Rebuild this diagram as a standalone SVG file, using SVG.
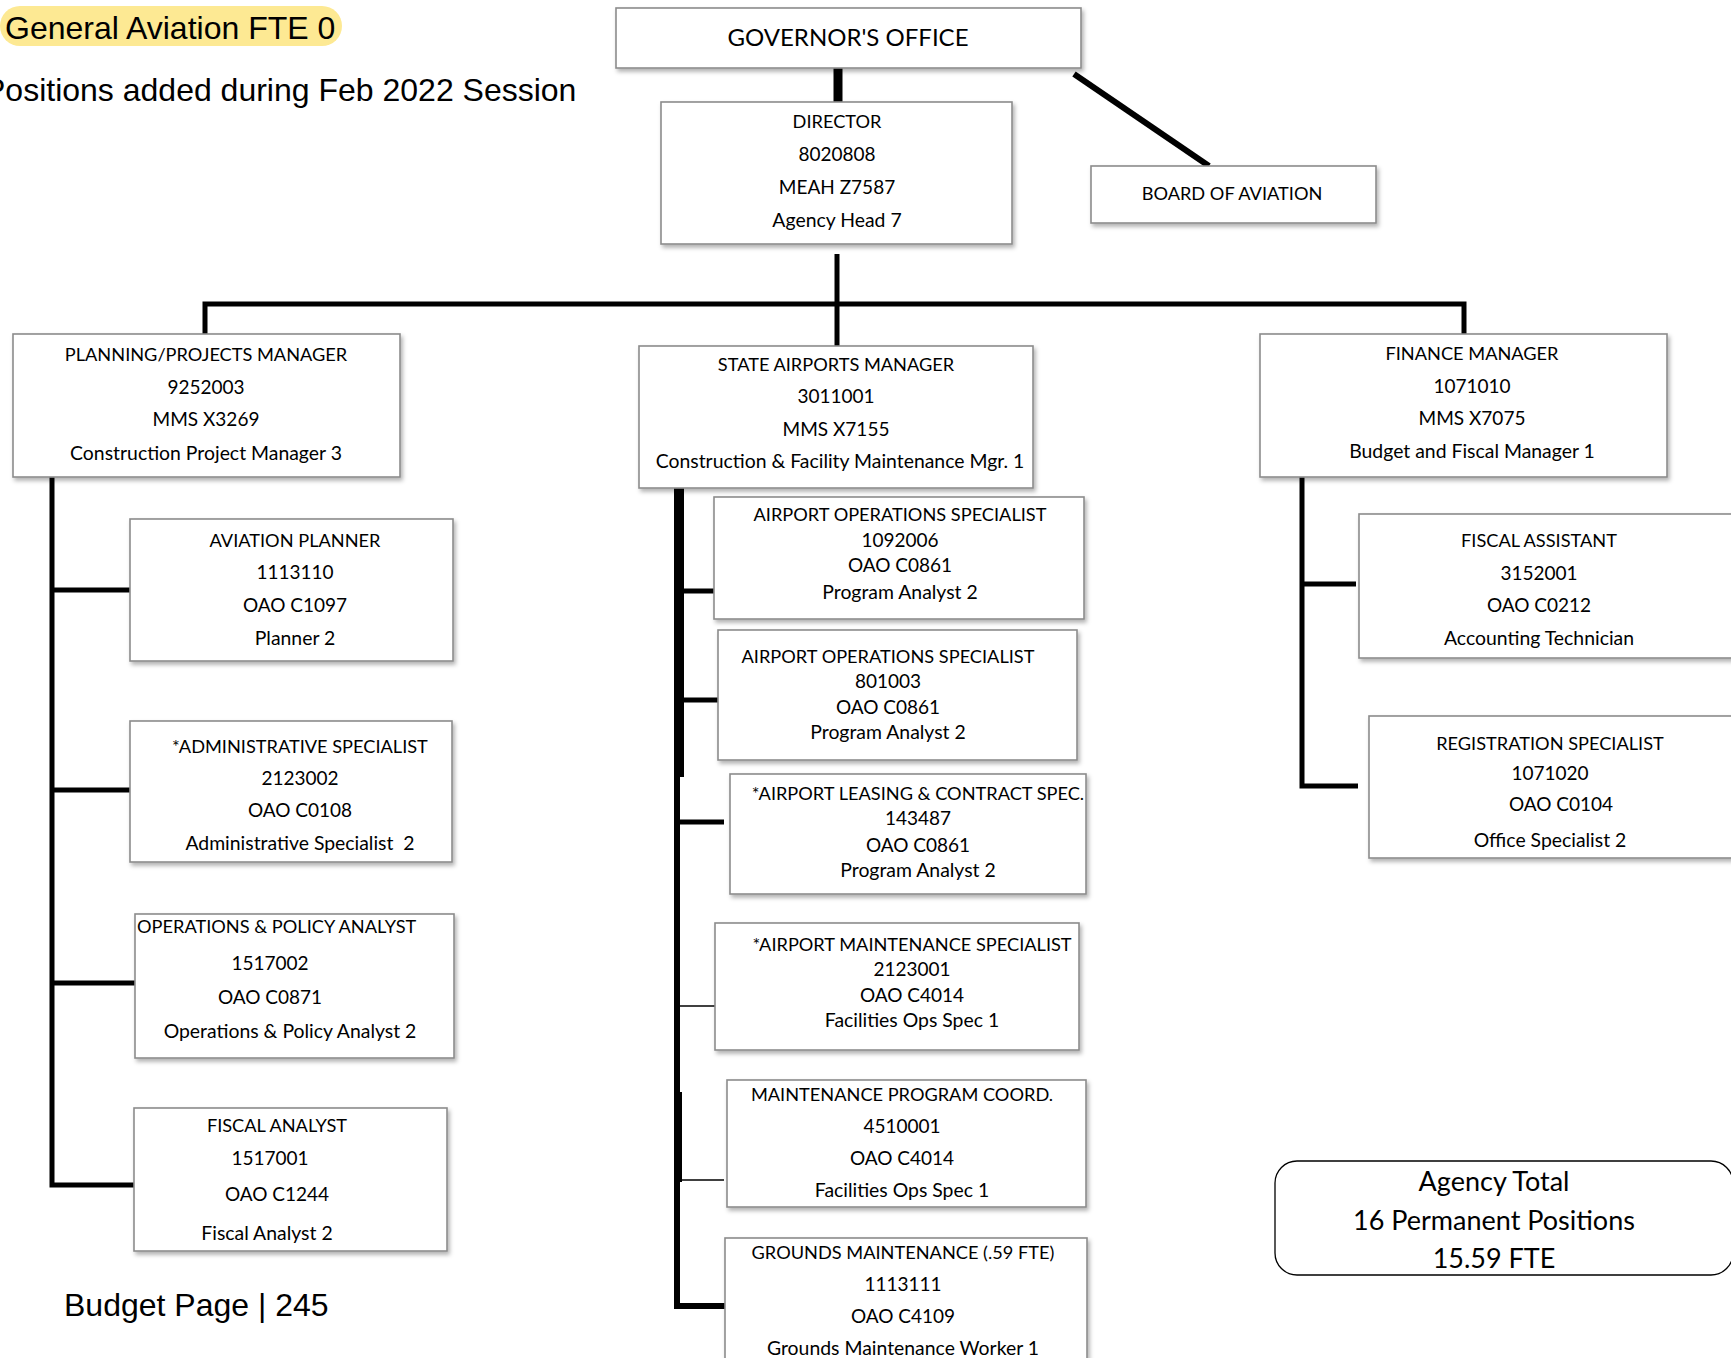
<svg xmlns="http://www.w3.org/2000/svg" width="1731" height="1358" viewBox="0 0 1731 1358">
<defs>
<filter id="sh" x="-5%" y="-5%" width="115%" height="125%">
<feDropShadow dx="2" dy="3" stdDeviation="2" flood-color="#000" flood-opacity="0.3"/>
</filter>
<style>
.box{fill:#fff;stroke:#8c8c8c;stroke-width:1.6;filter:url(#sh)}
.t{font-family:Lato,"Open Sans",sans-serif;font-size:19.4px;fill:#000;text-anchor:middle}
.u{font-size:18.2px}
.n{font-size:19px}
.l{text-anchor:start}
.big{font-family:"Liberation Sans",Arial,sans-serif;font-size:32px;fill:#000}
.gov{font-size:24px}
.tot{font-size:27px}
.c{stroke:#000;fill:none}
.thin{stroke-width:1.4}
</style>
</defs>
<rect width="1731" height="1358" fill="#fff"/>

<g id="header">
<rect x="0" y="6" width="342" height="40" rx="20" fill="#fde993"/>
<text class="big" x="5" y="39">General Aviation FTE 0</text>
<text class="big" x="-16" y="101">Positions added during Feb 2022 Session</text>
<text class="big" x="64" y="1316">Budget Page | 245</text>
</g>

<g id="connectors">
<line class="c" x1="838" y1="68" x2="838" y2="102" stroke-width="9"/>
<line class="c" x1="1074" y1="74" x2="1209" y2="166" stroke-width="6"/>
<line class="c" x1="837" y1="254" x2="837" y2="346" stroke-width="5"/>
<polyline class="c" points="205,334 205,304 1464,304 1464,334" stroke-width="5"/>
<polyline class="c" points="52,477 52,1185 134,1185" stroke-width="5"/>
<line class="c" x1="52" y1="590" x2="130" y2="590" stroke-width="5"/>
<line class="c" x1="52" y1="790" x2="130" y2="790" stroke-width="5"/>
<line class="c" x1="52" y1="983" x2="135" y2="983" stroke-width="5"/>
<polyline class="c" points="677,482 677,1306 725,1306" stroke-width="6"/>
<line class="c" x1="681" y1="467" x2="681" y2="777" stroke-width="6"/>
<line class="c" x1="679" y1="1092" x2="679" y2="1182" stroke-width="6"/>
<line class="c" x1="677" y1="591" x2="714" y2="591" stroke-width="5"/>
<line class="c" x1="677" y1="700" x2="719" y2="700" stroke-width="5"/>
<line class="c" x1="677" y1="822" x2="724" y2="822" stroke-width="5"/>
<line class="c thin" x1="677" y1="1006" x2="715" y2="1006"/>
<line class="c thin" x1="677" y1="1180" x2="724" y2="1180"/>
<polyline class="c" points="1302,477 1302,786 1358,786" stroke-width="5"/>
<line class="c" x1="1302" y1="584" x2="1356" y2="584" stroke-width="5"/>
</g>

<g id="governor">
<rect class="box" x="616" y="8" width="465" height="60"/>
<text class="t gov" x="848" y="46">GOVERNOR'S OFFICE</text>
</g>
<g id="director">
<rect class="box" x="661" y="102" width="351" height="142"/>
<text class="t u" x="837" y="128">DIRECTOR</text>
<text class="t n" x="837" y="161">8020808</text>
<text class="t n" x="837" y="194">MEAH Z7587</text>
<text class="t" x="837" y="227">Agency Head 7</text>
</g>
<g id="board">
<rect class="box" x="1091" y="166" width="285" height="57"/>
<text class="t u" x="1232" y="200">BOARD OF AVIATION</text>
</g>

<g id="planning-manager">
<rect class="box" x="13" y="334" width="387" height="143"/>
<text class="t u" x="206" y="361">PLANNING/PROJECTS MANAGER</text>
<text class="t n" x="206" y="394">9252003</text>
<text class="t n" x="206" y="426">MMS X3269</text>
<text class="t" x="206" y="460">Construction Project Manager 3</text>
</g>
<g id="state-airports-manager">
<rect class="box" x="639" y="346" width="394" height="142"/>
<text class="t u" x="836" y="371">STATE AIRPORTS MANAGER</text>
<text class="t n" x="836" y="403">3011001</text>
<text class="t n" x="836" y="436">MMS X7155</text>
<text class="t" x="840" y="468">Construction &amp; Facility Maintenance Mgr. 1</text>
</g>
<g id="finance-manager">
<rect class="box" x="1260" y="334" width="407" height="143"/>
<text class="t u" x="1472" y="360">FINANCE MANAGER</text>
<text class="t n" x="1472" y="393">1071010</text>
<text class="t n" x="1472" y="425">MMS X7075</text>
<text class="t" x="1472" y="458">Budget and Fiscal Manager 1</text>
</g>

<g id="aviation-planner">
<rect class="box" x="130" y="519" width="323" height="142"/>
<text class="t u" x="295" y="547">AVIATION PLANNER</text>
<text class="t n" x="295" y="579">1113110</text>
<text class="t n" x="295" y="612">OAO C1097</text>
<text class="t" x="295" y="645">Planner 2</text>
</g>
<g id="administrative-specialist">
<rect class="box" x="130" y="721" width="322" height="141"/>
<text class="t u" x="300" y="753">*ADMINISTRATIVE SPECIALIST</text>
<text class="t n" x="300" y="785">2123002</text>
<text class="t n" x="300" y="817">OAO C0108</text>
<text class="t" x="300" y="850" xml:space="preserve">Administrative Specialist  2</text>
</g>
<g id="operations-policy-analyst">
<rect class="box" x="135" y="914" width="319" height="144"/>
<text class="t u l" x="137" y="933">OPERATIONS &amp; POLICY ANALYST</text>
<text class="t n" x="270" y="970">1517002</text>
<text class="t n" x="270" y="1004">OAO C0871</text>
<text class="t" x="290" y="1038">Operations &amp; Policy Analyst 2</text>
</g>
<g id="fiscal-analyst">
<rect class="box" x="134" y="1108" width="313" height="143"/>
<text class="t u" x="277" y="1132">FISCAL ANALYST</text>
<text class="t n" x="270" y="1165">1517001</text>
<text class="t n" x="277" y="1201">OAO C1244</text>
<text class="t" x="267" y="1240">Fiscal Analyst 2</text>
</g>

<g id="airport-operations-specialist-1">
<rect class="box" x="714" y="497" width="370" height="122"/>
<text class="t u" x="900" y="521">AIRPORT OPERATIONS SPECIALIST</text>
<text class="t n" x="900" y="547">1092006</text>
<text class="t n" x="900" y="572">OAO C0861</text>
<text class="t" x="900" y="599">Program Analyst 2</text>
</g>
<g id="airport-operations-specialist-2">
<rect class="box" x="718" y="630" width="359" height="130"/>
<text class="t u" x="888" y="663">AIRPORT OPERATIONS SPECIALIST</text>
<text class="t n" x="888" y="688">801003</text>
<text class="t n" x="888" y="714">OAO C0861</text>
<text class="t" x="888" y="739">Program Analyst 2</text>
</g>
<g id="airport-leasing-contract-spec">
<rect class="box" x="730" y="774" width="356" height="120"/>
<text class="t u" x="918" y="800">*AIRPORT LEASING &amp; CONTRACT SPEC.</text>
<text class="t n" x="918" y="825">143487</text>
<text class="t n" x="918" y="852">OAO C0861</text>
<text class="t" x="918" y="877">Program Analyst 2</text>
</g>
<g id="airport-maintenance-specialist">
<rect class="box" x="715" y="923" width="364" height="127"/>
<text class="t u" x="912" y="951">*AIRPORT MAINTENANCE SPECIALIST</text>
<text class="t n" x="912" y="976">2123001</text>
<text class="t n" x="912" y="1002">OAO C4014</text>
<text class="t" x="912" y="1027">Facilities Ops Spec 1</text>
</g>
<g id="maintenance-program-coord">
<rect class="box" x="727" y="1080" width="359" height="127"/>
<text class="t u" x="902" y="1101">MAINTENANCE PROGRAM COORD.</text>
<text class="t n" x="902" y="1133">4510001</text>
<text class="t n" x="902" y="1165">OAO C4014</text>
<text class="t" x="902" y="1197">Facilities Ops Spec 1</text>
</g>
<g id="grounds-maintenance">
<rect class="box" x="725" y="1238" width="362" height="140"/>
<text class="t u" x="903" y="1259">GROUNDS MAINTENANCE (.59 FTE)</text>
<text class="t n" x="903" y="1291">1113111</text>
<text class="t n" x="903" y="1323">OAO C4109</text>
<text class="t" x="903" y="1355">Grounds Maintenance Worker 1</text>
</g>

<g id="fiscal-assistant">
<rect class="box" x="1359" y="514" width="390" height="144"/>
<text class="t u" x="1539" y="547">FISCAL ASSISTANT</text>
<text class="t n" x="1539" y="580">3152001</text>
<text class="t n" x="1539" y="612">OAO C0212</text>
<text class="t" x="1539" y="645">Accounting Technician</text>
</g>
<g id="registration-specialist">
<rect class="box" x="1369" y="716" width="380" height="142"/>
<text class="t u" x="1550" y="750">REGISTRATION SPECIALIST</text>
<text class="t n" x="1550" y="780">1071020</text>
<text class="t n" x="1561" y="811">OAO C0104</text>
<text class="t" x="1550" y="847">Office Specialist 2</text>
</g>

<g id="agency-total">
<rect x="1275" y="1161" width="458" height="114" rx="22" fill="#fff" stroke="#000" stroke-width="1.3"/>
<text class="t tot" x="1494" y="1191">Agency Total</text>
<text class="t tot" x="1494" y="1230">16 Permanent Positions</text>
<text class="t tot" x="1494" y="1268">15.59 FTE</text>
</g>
</svg>
